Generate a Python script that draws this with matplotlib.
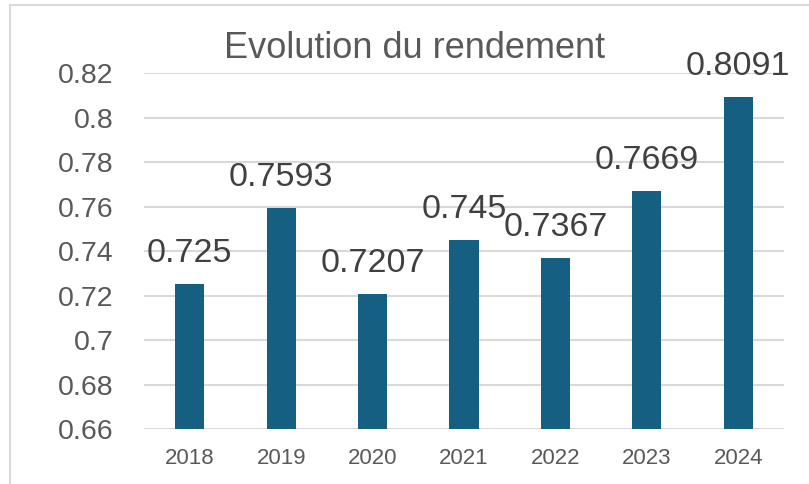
import matplotlib
matplotlib.use("Agg")
import matplotlib.pyplot as plt
from matplotlib.patches import Rectangle

plt.rcParams['font.family'] = ['Liberation Sans', 'DejaVu Sans']

# data
years = ['2018', '2019', '2020', '2021', '2022', '2023', '2024']
rendement = [0.725, 0.7593, 0.7207, 0.745, 0.7367, 0.7669, 0.8091]
labels = ['0.725', '0.7593', '0.7207', '0.745', '0.7367', '0.7669', '0.8091']
yticks = [0.66, 0.68, 0.7, 0.72, 0.74, 0.76, 0.78, 0.8, 0.82]
ytick_labels = ['0.66', '0.68', '0.7', '0.72', '0.74', '0.76', '0.78', '0.8', '0.82']

bar_col = '#156082'
grid_col = '#d9d9d9'
txt_col = '#595959'

fig = plt.figure(figsize=(8.09, 4.84), dpi=100)
ax = fig.add_axes([0.178, 0.1136, 0.791, 0.7354])

x = range(len(years))
ax.bar(x, rendement, width=0.32, color=bar_col, zorder=3)

ax.set_ylim(0.66, 0.82)
ax.set_xlim(-0.5, len(years) - 0.5)
ax.set_yticks(yticks)
ax.set_yticklabels(ytick_labels, fontsize=20.5, color=txt_col)
ax.set_xticks(list(x))
ax.set_xticklabels(years, fontsize=16, color=txt_col)
ax.tick_params(axis='both', length=0)
ax.tick_params(axis='y', pad=22)
ax.tick_params(axis='x', pad=14)
ax.grid(axis='y', color=grid_col, linewidth=1.5, zorder=0)
for s in ax.spines.values():
    s.set_visible(False)

for xi, v, lab in zip(x, rendement, labels):
    ax.annotate(lab, (xi, v), xytext=(0, 16), textcoords='offset points',
                ha='center', va='baseline', fontsize=24.5, color='#404040',
                zorder=4, annotation_clip=False)

fig.text(415 / 809, 1 - 48 / 484, 'Evolution du rendement', ha='center',
         va='center', fontsize=26, color=txt_col)

# chart border (top and left visible)
fig.add_artist(Rectangle((10 / 809, -0.1), 1.2, 1 - 5 / 484 + 0.1,
                         transform=fig.transFigure, fill=False,
                         edgecolor=grid_col, linewidth=1.5))

fig.savefig('out.png', dpi=100)
